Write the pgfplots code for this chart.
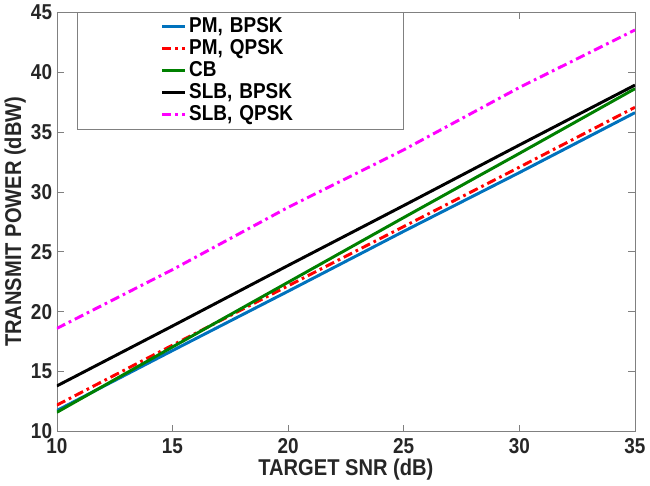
\documentclass[border=0pt]{standalone}
\usepackage{fontspec}
\setmainfont[FakeStretch=0.88]{Liberation Sans}
\usepackage{pgfplots}
\pgfplotsset{compat=1.18}
\definecolor{mblue}{rgb}{0,0.447,0.741}
\definecolor{mgreen}{rgb}{0,0.5,0}
\definecolor{mmag}{rgb}{1,0,1}
\definecolor{axgray}{RGB}{128,128,128}
\definecolor{txt}{RGB}{38,38,38}
\begin{document}
\begin{tikzpicture}
\begin{axis}[
scale only axis,
width=430pt, height=312pt,
xmin=10, xmax=35, ymin=10, ymax=45,
xtick={10,15,...,35}, ytick={10,15,...,45},
tick align=inside,
axis line style={axgray},
every tick/.style={axgray},
major tick length=5pt,
tick label style={font=\bfseries\fontsize{16}{17}\selectfont, text=txt},
xticklabel style={yshift=-2pt},
/pgf/number format/assume math mode=true,
label style={font=\bfseries\fontsize{17}{19}\selectfont, text=txt},
xlabel={TARGET SNR (dB)},
ylabel={TRANSMIT POWER (dBW)},
xlabel style={yshift=3pt},
ylabel style={yshift=-3pt},
legend cell align=left,
legend style={at={(axis cs:10.87,45)}, anchor=north west, draw=axgray,
  font=\bfseries\fontsize{16}{17}\selectfont, inner xsep=62pt, inner ysep=2.5pt,
  row sep=0pt, nodes={text width=95pt, text height=11.5pt, text depth=3.5pt, inner ysep=0.7pt, text=black}},
]
\addplot[mblue, line width=2.2pt] coordinates {(10,11.75) (15,16.75) (20,21.7) (25,26.7) (30,31.6) (35,36.6)};
\addplot[red, line width=2.2pt, dash pattern=on 7pt off 3pt on 2pt off 3pt] coordinates {(10,12.2) (15,17.2) (20,22.15) (25,27.1) (30,32.05) (35,37.05)};
\addplot[mgreen, line width=2.2pt] coordinates {(10,11.6) (15,17.05) (20,22.45) (25,27.85) (30,33.2) (35,38.6)};
\addplot[black, line width=2.2pt] coordinates {(10,13.8) (15,18.8) (20,23.85) (25,28.85) (30,33.9) (35,38.9)};
\addplot[mmag, line width=2.2pt, dash pattern=on 7pt off 3pt on 2pt off 3pt] coordinates {(10,18.6) (15,23.5) (20,28.7) (25,33.5) (30,38.7) (35,43.5)};
\legend{PM{,} BPSK, PM{,} QPSK, CB, SLB{,} BPSK, SLB{,} QPSK}
\end{axis}
\end{tikzpicture}
\end{document}
